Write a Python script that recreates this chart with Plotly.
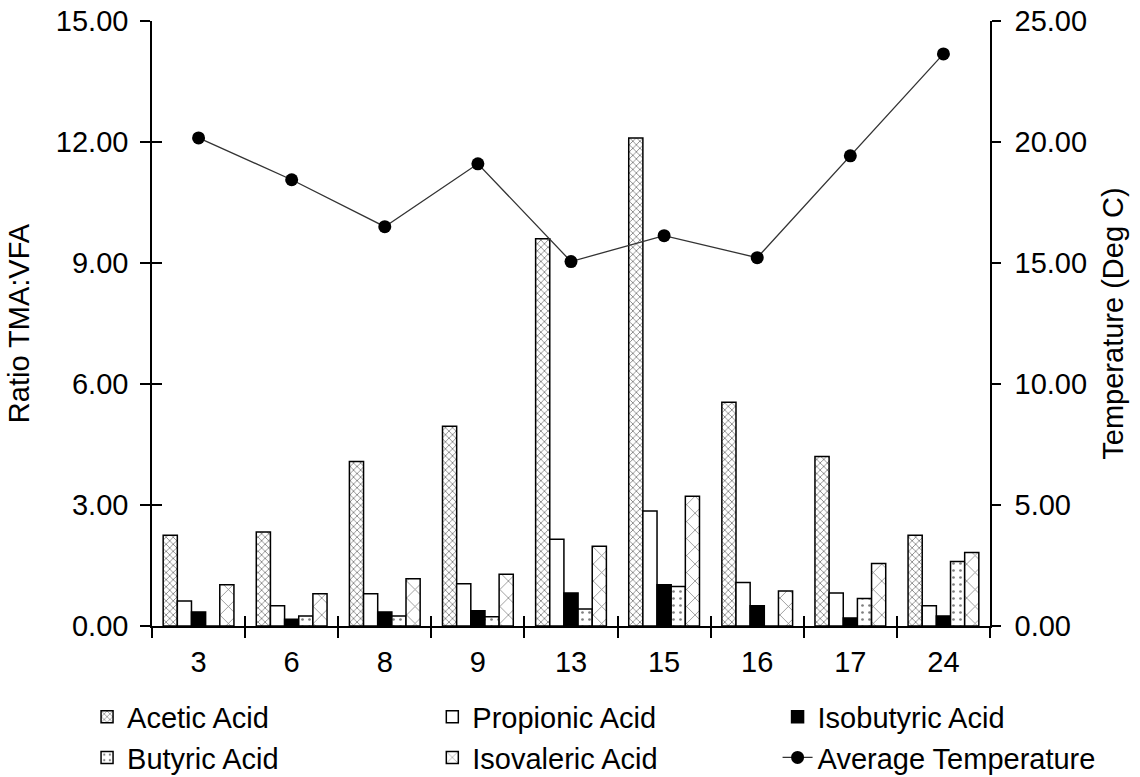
import plotly.graph_objects as go

days = ["3", "6", "8", "9", "13", "15", "16", "17", "24"]
acetic = [2.25, 2.33, 4.08, 4.95, 9.60, 12.10, 5.55, 4.20, 2.25]
propionic = [0.62, 0.50, 0.80, 1.05, 2.15, 2.85, 1.08, 0.82, 0.50]
isobutyric = [0.35, 0.17, 0.35, 0.38, 0.82, 1.02, 0.50, 0.20, 0.25]
butyric = [0.0, 0.25, 0.25, 0.23, 0.42, 0.98, 0.0, 0.68, 1.60]
isovaleric = [1.02, 0.80, 1.17, 1.28, 1.98, 3.22, 0.87, 1.55, 1.82]
avg_temp = [20.17, 18.44, 16.50, 19.10, 15.06, 16.13, 15.22, 19.43, 23.64]

left_ticks = [0, 3, 6, 9, 12, 15]
left_labels = ["0.00", "3.00", "6.00", "9.00", "12.00", "15.00"]
right_ticks = [0, 5, 10, 15, 20, 25]
right_labels = ["0.00", "5.00", "10.00", "15.00", "20.00", "25.00"]

FONT = "Liberation Sans, Arial, sans-serif"
FS = 29

fig = go.Figure()

def bar(name, vals, color, shape, legend, size=8, solidity=0.3):
    pattern = dict(shape=shape, fgcolor="black", bgcolor="white", size=size, solidity=solidity) if shape else None
    fig.add_trace(go.Bar(
        x=days, y=vals, name=name, legend=legend,
        marker=dict(color=color, line=dict(color="black", width=1.5), pattern=pattern),
        xaxis="x", yaxis="y",
    ))

bar("Acetic Acid", acetic, "white", "x", "legend", size=5, solidity=0.3)
bar("Propionic Acid", propionic, "white", None, "legend2")
bar("Isobutyric Acid", isobutyric, "black", None, "legend3")
bar("Butyric Acid", butyric, "white", ".", "legend", size=7, solidity=0.12)
bar("Isovaleric Acid", isovaleric, "white", "x", "legend2", size=12, solidity=0.12)

fig.add_trace(go.Scatter(
    x=days, y=avg_temp, name="Average Temperature", yaxis="y2", legend="legend3",
    mode="lines+markers",
    line=dict(color="#333333", width=1.3),
    marker=dict(color="black", size=13),
))

# invisible helper trace so the overlay axes (inner tick halves) are drawn
fig.add_trace(go.Scatter(
    x=days, y=acetic, xaxis="x2", yaxis="y3", mode="none",
    showlegend=False, hoverinfo="skip",
))

legend_common = dict(
    orientation="v", yanchor="top", xanchor="left",
    font=dict(size=FS, family=FONT), tracegroupgap=0,
    bgcolor="rgba(0,0,0,0)", traceorder="normal",
)

axis_common = dict(
    showgrid=False, zeroline=False, tickcolor="black", tickwidth=1.5,
    tickfont=dict(size=FS, family=FONT),
)

LY = -0.108

fig.update_layout(
    width=1140, height=777,
    margin=dict(l=152, r=150, t=21, b=151, autoexpand=False),
    paper_bgcolor="white", plot_bgcolor="white",
    font=dict(family=FONT, size=FS, color="black"),
    barmode="group", bargap=0.24, bargroupgap=0,
    showlegend=True,
    legend=dict(x=-0.0775, y=LY, **legend_common),
    legend2=dict(x=0.3345, y=LY, **legend_common),
    legend3=dict(x=0.7465, y=LY, **legend_common),
    xaxis=dict(
        type="category", showline=True, linecolor="black", linewidth=1.5,
        ticks="outside", ticklen=10, tickson="boundaries", ticklabelstandoff=9,
        range=[-0.5, 8.5], **axis_common,
    ),
    xaxis2=dict(
        type="category", overlaying="x", side="bottom", showline=False,
        ticks="inside", ticklen=10, tickson="boundaries", showticklabels=False,
        range=[-0.5, 8.5], matches="x", **axis_common,
    ),
    yaxis=dict(
        range=[0, 15], tickvals=left_ticks, ticktext=left_labels,
        showline=True, linecolor="black", linewidth=1.5,
        ticks="outside", ticklen=10, ticklabelstandoff=6, ticklabeloverflow="allow",
        title=dict(text="Ratio TMA:VFA", font=dict(size=FS), standoff=18),
        **axis_common,
    ),
    yaxis3=dict(
        range=[0, 15], tickvals=left_ticks, overlaying="y", side="left",
        showline=False, ticks="inside", ticklen=10, showticklabels=False,
        **axis_common,
    ),
    yaxis2=dict(
        range=[0, 25], tickvals=right_ticks, ticktext=right_labels,
        overlaying="y", side="right",
        showline=True, linecolor="black", linewidth=1.5,
        ticks="outside", ticklen=9, ticklabelstandoff=8, ticklabeloverflow="allow",
        title=dict(text="Temperature (Deg C)", font=dict(size=FS), standoff=17),
        **axis_common,
    ),
)

fig.write_html(
    "out.html",
    config={"displayModeBar": False},
    post_script="document.body.style.margin='0px';",
)
